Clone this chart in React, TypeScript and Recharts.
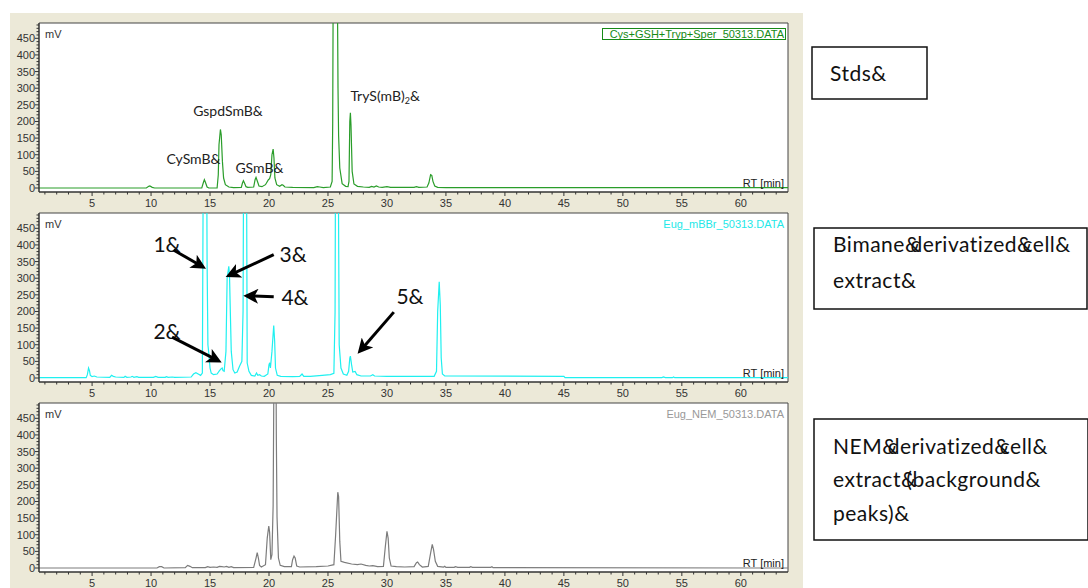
import React from "react";
import { CartesianGrid, Line, LineChart, ReferenceLine, XAxis, YAxis } from "recharts";

type Point = [number, number];

// retention time (min), signal (mV)
const stdsTrace: Point[] = [
  [0.5, 0], [9.6, 0], [9.8, 5], [9.9, 6], [10.1, 2], [10.3, 0],
  [14.3, 0], [14.45, 18], [14.52, 25], [14.6, 18], [14.75, 3], [14.9, 0],
  [15.6, 0], [15.7, 40], [15.76, 130], [15.88, 176], [15.95, 160], [16.05, 80], [16.15, 30],
  [16.3, 10], [16.6, 3], [17.0, 1], [17.65, 2], [17.75, 15], [17.83, 22], [17.92, 15],
  [18.05, 4], [18.2, 2], [18.7, 3], [18.82, 25], [18.9, 32], [19.0, 22], [19.15, 6], [19.4, 4],
  [19.7, 10], [19.95, 25], [20.05, 28], [20.15, 40], [20.25, 100], [20.35, 117], [20.42, 90],
  [20.5, 30], [20.65, 10], [20.9, 5], [21.1, 10], [21.2, 8], [21.35, 3], [22.0, 2], [23.8, 1],
  [24.1, 4], [24.3, 3], [24.6, 1], [25.2, 3], [25.35, 20], [25.4, 195], [25.45, 700],
  [25.6, 1400], [25.78, 700], [25.85, 300], [25.9, 158], [26.0, 60], [26.2, 13], [26.5, 5],
  [26.7, 4], [26.78, 20], [26.85, 200], [26.9, 226], [26.95, 190], [27.05, 50], [27.2, 12],
  [27.5, 5], [28.0, 3], [28.5, 2], [28.7, 5], [28.9, 3], [29.1, 6], [29.3, 3], [29.6, 2],
  [30.0, 4], [30.3, 2], [32.3, 2], [32.5, 4], [32.7, 2], [33.4, 3], [33.55, 15], [33.7, 40],
  [33.8, 38], [33.9, 20], [34.05, 6], [34.3, 2], [35.0, 1], [64, 1],
];

const mbbrTrace: Point[] = [
  [0.5, 1], [4.5, 1], [4.6, 10], [4.7, 30], [4.78, 22], [4.85, 8], [5.0, 4], [5.2, 6], [5.4, 3],
  [6.5, 2], [6.65, 8], [6.8, 5], [7.0, 3], [7.7, 2], [7.8, 5], [7.95, 2], [8.3, 3], [8.4, 5],
  [8.55, 2], [8.8, 4], [8.95, 2], [10.2, 2], [10.4, 5], [10.6, 2], [11.2, 2], [11.3, 4],
  [11.45, 2], [11.8, 3], [12.0, 2], [13.4, 3], [13.6, 12], [13.8, 16], [14.0, 12], [14.2, 8],
  [14.35, 15], [14.42, 600], [14.55, 1300], [14.68, 1000], [14.75, 350], [14.82, 100],
  [14.9, 73], [15.0, 30], [15.1, 15], [15.3, 10], [15.6, 12], [15.8, 22], [15.95, 28],
  [16.03, 30], [16.1, 22], [16.2, 20], [16.35, 80], [16.45, 300], [16.59, 336], [16.65, 310],
  [16.72, 200], [16.8, 80], [16.95, 25], [17.1, 15], [17.3, 18], [17.5, 35], [17.7, 50],
  [17.8, 200], [17.86, 800], [17.95, 1500], [18.08, 800], [18.15, 45], [18.3, 20], [18.5, 8],
  [18.8, 6], [18.94, 15], [19.05, 8], [19.2, 10], [19.35, 6], [19.6, 5], [19.9, 12],
  [20.0, 40], [20.06, 46], [20.12, 30], [20.25, 80], [20.4, 158], [20.48, 110], [20.55, 30],
  [20.7, 8], [21.0, 5], [22.0, 4], [22.6, 5], [22.8, 12], [22.95, 5], [23.5, 5], [24.5, 8],
  [25.2, 10], [25.5, 14], [25.6, 198], [25.65, 800], [25.78, 1500], [25.88, 600], [25.95, 100],
  [26.1, 30], [26.3, 12], [26.6, 8], [26.75, 20], [26.85, 60], [26.9, 66], [27.0, 40],
  [27.1, 18], [27.3, 20], [27.45, 10], [27.8, 6], [28.6, 6], [28.8, 10], [28.95, 6], [30.0, 5],
  [34.0, 5], [34.2, 20], [34.3, 200], [34.43, 289], [34.52, 220], [34.6, 60], [34.7, 12],
  [34.9, 6], [45.0, 5], [45.1, 1], [53.3, 1], [53.45, 3], [53.6, 1], [54.2, 1], [54.3, 3],
  [54.4, 1], [64, 1],
];

const nemTrace: Point[] = [
  [0.5, 0], [10.5, 0], [10.7, 4], [10.9, 4], [11.1, 0], [12.9, 1], [13.1, 8], [13.3, 5],
  [13.5, 1], [14.6, 1], [14.8, 4], [15.0, 2], [15.3, 3], [15.6, 2], [15.8, 5], [16.0, 4],
  [16.2, 3], [16.4, 5], [16.6, 2], [16.8, 4], [17.0, 1], [18.7, 2], [18.9, 30], [19.0, 46],
  [19.1, 30], [19.2, 8], [19.35, 3], [19.7, 10], [19.85, 90], [19.98, 126], [20.05, 108],
  [20.15, 25], [20.25, 40], [20.35, 188], [20.42, 600], [20.52, 1200], [20.62, 400],
  [20.68, 153], [20.8, 30], [20.95, 8], [21.3, 4], [21.9, 4], [22.0, 25], [22.12, 36],
  [22.22, 30], [22.35, 6], [22.6, 3], [24.0, 4], [25.0, 6], [25.5, 10], [25.65, 100],
  [25.83, 228], [25.9, 215], [26.0, 80], [26.1, 20], [26.4, 17], [27.0, 12], [27.5, 10],
  [27.8, 12], [28.2, 8], [28.5, 6], [28.8, 7], [29.2, 4], [29.7, 5], [29.85, 60], [30.0, 110],
  [30.1, 90], [30.2, 30], [30.35, 6], [30.8, 4], [31.5, 3], [32.3, 4], [32.5, 16], [32.6, 18],
  [32.75, 10], [33.0, 3], [33.5, 5], [33.7, 45], [33.84, 71], [33.95, 55], [34.1, 20],
  [34.3, 5], [34.8, 3], [34.9, 5], [35.0, 2], [35.7, 2], [35.8, 4], [36.0, 2], [37.0, 2],
  [37.1, 4], [37.25, 2], [38.8, 2], [38.9, 4], [39.0, 1], [64, 0],
];

const rtLabels = [5, 10, 15, 20, 25, 30, 35, 40, 45, 50, 55, 60];
const mvLabels = [0, 50, 100, 150, 200, 250, 300, 350, 400, 450];

// peak names on the standards run: [text, rt, mV]
const stdsNames: [string, number, number][] = [
  ["GspdSmB&", 13.57, 216],
  ["CySmB&", 11.3, 71],
  ["GSmB&", 17.15, 45],
];

// numbered peaks on the bimane run: [text, rt, mV]
const mbbrNumbers: [string, number, number][] = [
  ["1&", 10.2, 379],
  ["2&", 10.2, 118],
  ["3&", 20.9, 349],
  ["4&", 21.05, 219],
  ["5&", 30.8, 221],
];

// arrows on the bimane run: [fromRt, fromMv, toRt, toMv]
const mbbrArrows: [number, number, number, number][] = [
  [11.9, 385, 14.33, 335],
  [11.78, 123, 15.65, 53],
  [20.4, 371, 16.67, 309],
  [20.4, 244, 18.2, 247],
  [30.58, 198, 27.76, 83],
];

const X_DOMAIN: [number, number] = [0.5, 64];
const Y_DOMAIN: [number, number] = [-12, 496];
const PLOT_LEFT = 39;
const PLOT_RIGHT = 788;
const PLOT_H = 169;
const PANEL_TOPS = [23, 213, 403];
const CHART_W = 800;
const CHART_H = 199;
const MARGIN_TOP = 10;

const minorRt = Array.from({ length: 63 }, (_, i) => i + 1);
const minorMv = Array.from({ length: 50 }, (_, i) => i * 10);

const axisFont = "'Liberation Sans', Arial, sans-serif";
const noteFont = "Lato, 'Open Sans', sans-serif";

function toX(rt: number) {
  return PLOT_LEFT + ((rt - X_DOMAIN[0]) / (X_DOMAIN[1] - X_DOMAIN[0])) * (PLOT_RIGHT - PLOT_LEFT);
}

function toY(panel: number, mv: number) {
  return PANEL_TOPS[panel] + ((Y_DOMAIN[1] - mv) / (Y_DOMAIN[1] - Y_DOMAIN[0])) * PLOT_H;
}

function RtTick(props: any) {
  const { x, y, payload } = props;
  const major = rtLabels.includes(payload.value);
  return (
    <g>
      <line x1={x} x2={x} y1={y} y2={y + (major ? 4 : 2.5)} stroke="#333" />
      {major && (
        <text x={x} y={y + 15} textAnchor="middle" fontSize={11} fontFamily={axisFont} fill="#333">
          {payload.value}
        </text>
      )}
    </g>
  );
}

function MvTick(props: any) {
  const { x, y, payload } = props;
  const major = mvLabels.includes(payload.value);
  return (
    <g>
      <line x1={x - (major ? 4 : 2.5)} x2={x} y1={y} y2={y} stroke="#333" />
      {major && (
        <text x={x - 4} y={y + 4} textAnchor="end" fontSize={11} fontFamily={axisFont} fill="#333">
          {payload.value}
        </text>
      )}
    </g>
  );
}

function Chromatogram({ trace, color, top }: { trace: Point[]; color: string; top: number }) {
  const data = trace.map(([t, mv]) => ({ t, mv }));
  return (
    <div style={{ position: "absolute", left: 0, top }}>
      <LineChart width={CHART_W} height={CHART_H} data={data} margin={{ top: MARGIN_TOP, right: CHART_W - PLOT_RIGHT, bottom: 0, left: 0 }}>
        <CartesianGrid fill="#fff" horizontal={false} vertical={false} />
        <XAxis
          type="number"
          dataKey="t"
          domain={X_DOMAIN}
          allowDataOverflow
          ticks={minorRt}
          interval={0}
          tick={<RtTick />}
          tickLine={false}
          tickSize={0}
          tickMargin={0}
          height={20}
          axisLine={{ stroke: "#333", strokeWidth: 1.5 }}
        />
        <YAxis
          type="number"
          domain={Y_DOMAIN}
          allowDataOverflow
          ticks={minorMv}
          interval={0}
          tick={<MvTick />}
          tickLine={false}
          tickSize={0}
          tickMargin={0}
          width={PLOT_LEFT}
          axisLine={{ stroke: "#333", strokeWidth: 1.5 }}
        />
        <ReferenceLine y={Y_DOMAIN[1]} stroke="#444" strokeWidth={1} ifOverflow="visible" />
        <ReferenceLine x={X_DOMAIN[1]} stroke="#444" strokeWidth={1} ifOverflow="visible" />
        <Line type="linear" dataKey="mv" stroke={color} strokeWidth={1.2} dot={false} isAnimationActive={false} />
      </LineChart>
    </div>
  );
}

function PanelText({ panel, legend, color, boxed }: { panel: number; legend: string; color: string; boxed?: boolean }) {
  const top = PANEL_TOPS[panel];
  const bottom = top + PLOT_H;
  return (
    <g fontFamily={axisFont} fontSize={11}>
      <text x={45} y={top + 14.5} fill="#333">mV</text>
      <text x={784} y={bottom - 5} textAnchor="end" fill="#222">RT [min]</text>
      {boxed && <rect x={602.5} y={top + 5.5} width={183} height={11} fill="none" stroke={color} strokeWidth={1} />}
      <text x={784} y={top + 15} textAnchor="end" fill={color}>{legend}</text>
    </g>
  );
}

export default function App() {
  return (
    <div style={{ position: "absolute", left: 0, top: 0, width: 1088, height: 588, background: "#fff", overflow: "hidden" }}>
      <div style={{ position: "absolute", left: 10, top: 13, width: 793, height: 575, background: "#ECE9D8" }} />
      <Chromatogram trace={stdsTrace} color="#2a9d2a" top={PANEL_TOPS[0] - MARGIN_TOP} />
      <Chromatogram trace={mbbrTrace} color="#1ff0f0" top={PANEL_TOPS[1] - MARGIN_TOP} />
      <Chromatogram trace={nemTrace} color="#7c7c7c" top={PANEL_TOPS[2] - MARGIN_TOP} />
      <svg width={1088} height={588} style={{ position: "absolute", left: 0, top: 0, pointerEvents: "none" }}>
        <defs>
          <marker id="head" viewBox="0 0 10 10" refX="7" refY="5" markerWidth="5" markerHeight="5" orient="auto">
            <path d="M0,0 L10,5 L0,10 L2.5,5 z" fill="#000" />
          </marker>
        </defs>
        <PanelText panel={0} legend="Cys+GSH+Tryp+Sper_50313.DATA" color="#168a16" boxed />
        <PanelText panel={1} legend="Eug_mBBr_50313.DATA" color="#22e8e8" />
        <PanelText panel={2} legend="Eug_NEM_50313.DATA" color="#999" />

        <g fontFamily={noteFont} fontSize={14} fill="#222">
          {stdsNames.map(([label, rt, mv]) => (
            <text key={label} x={toX(rt)} y={toY(0, mv)}>{label}</text>
          ))}
          <text x={toX(26.9)} y={toY(0, 262)}>
            TryS(mB)<tspan fontSize={9} dy={3}>2</tspan><tspan dy={-3}>&amp;</tspan>
          </text>
        </g>

        <g fontFamily={noteFont} fontSize={21} fill="#111">
          {mbbrNumbers.map(([label, rt, mv]) => (
            <text key={label} x={toX(rt)} y={toY(1, mv)}>{label}</text>
          ))}
        </g>
        {mbbrArrows.map(([r1, m1, r2, m2], i) => (
          <line key={i} x1={toX(r1)} y1={toY(1, m1)} x2={toX(r2)} y2={toY(1, m2)} stroke="#000" strokeWidth={3} markerEnd="url(#head)" />
        ))}

        <g fontFamily={noteFont} fontSize={21} letterSpacing={0.5} fill="#111">
          <rect x={812} y={47} width={115} height={52} fill="#fff" stroke="#111" strokeWidth={1.5} />
          <text x={830} y={81}>Stds&amp;</text>

          <rect x={814} y={228} width={273} height={81} fill="#fff" stroke="#111" strokeWidth={1.5} />
          <text x={833} y={252}>
            Bimane&amp;<tspan dx={-10}>derivatized&amp;</tspan><tspan dx={-10}>cell&amp;</tspan>
          </text>
          <text x={833} y={288}>extract&amp;</text>

          <rect x={814} y={419} width={274} height={121} fill="#fff" stroke="#111" strokeWidth={1.5} />
          <text x={833} y={454}>
            NEM&amp;<tspan dx={-10}>derivatized&amp;</tspan><tspan dx={-10}>cell&amp;</tspan>
          </text>
          <text x={833} y={487}>
            extract&amp;<tspan dx={-10}>(background&amp;</tspan>
          </text>
          <text x={833} y={521}>peaks)&amp;</text>
        </g>
      </svg>
    </div>
  );
}
